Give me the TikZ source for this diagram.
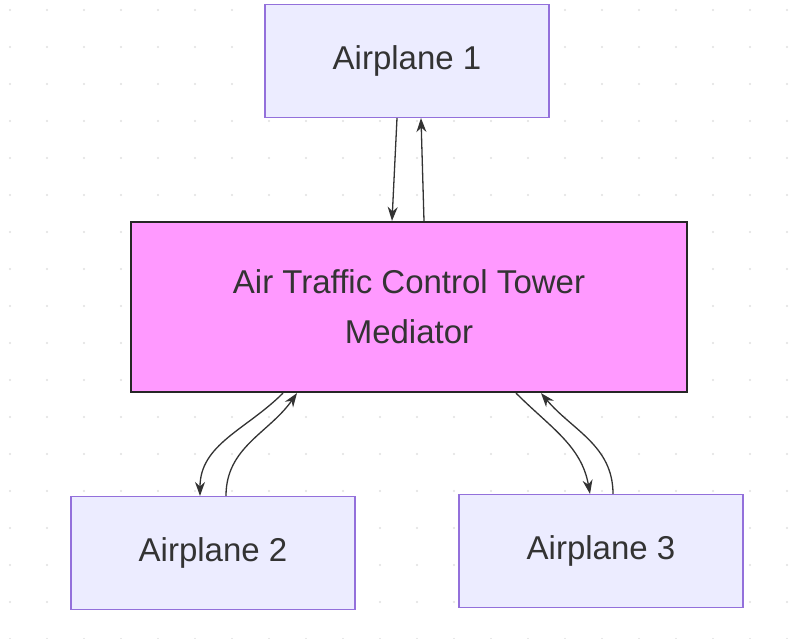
\documentclass[tikz,border=0pt]{standalone}
\usepackage{fontspec}
\setmainfont{Liberation Sans}
\usetikzlibrary{arrows.meta}
\definecolor{planefill}{HTML}{ECECFF}
\definecolor{planeline}{HTML}{9370DB}
\definecolor{towerfill}{HTML}{FF99FF}
\tikzset{
  plane/.style={draw=planeline, fill=planefill, line width=1.2pt, minimum width=284pt, minimum height=113pt, inner sep=0pt, font=\fontsize{33}{38}\selectfont, text=black!80},
  tower/.style={draw=black!85, fill=towerfill, line width=2.2pt, minimum width=556pt, minimum height=170pt, inner sep=0pt, align=center, font=\fontsize{33}{50}\selectfont, text=black!80},
  link/.style={draw=black!80, line width=1.3pt, -{Stealth[length=14pt,width=10pt]}}
}
\begin{document}
\begin{tikzpicture}[x=1pt, y=-1pt]

    % Background with dots
    \fill[white] (0,0) rectangle (812,638);
    \useasboundingbox (0,0) rectangle (812,638);
    \foreach \i in {0,...,22} {
        \foreach \j in {0,...,17} {
            \fill[black!12] (10+\i*37, 10+\j*37) circle (1.2pt);
        }
    }

    % Boxes
    \node[plane] (plane1) at (407,61) {Airplane 1};
    \node[tower] (tower) at (409,307) {Air Traffic Control Tower\\Mediator};
    \node[plane] (plane2) at (213,553) {Airplane 2};
    \node[plane] (plane3) at (601,551) {Airplane 3};

    % Links to and from the tower
    \draw[link] (plane1.south -| 397,0) -- (tower.north -| 392,0);
    \draw[link] (tower.north -| 424,0) -- (plane1.south -| 421,0);
    \draw[link] (tower.south -| 283,0) to[out=-135, in=90] (plane2.north -| 200,0);
    \draw[link] (plane2.north -| 226,0) to[out=90, in=-125] (tower.south -| 297,0);
    \draw[link] (tower.south -| 516,0) to[out=-45, in=100] (plane3.north -| 590,0);
    \draw[link] (plane3.north -| 613,0) to[out=90, in=-50] (tower.south -| 541,0);

\end{tikzpicture}
\end{document}
